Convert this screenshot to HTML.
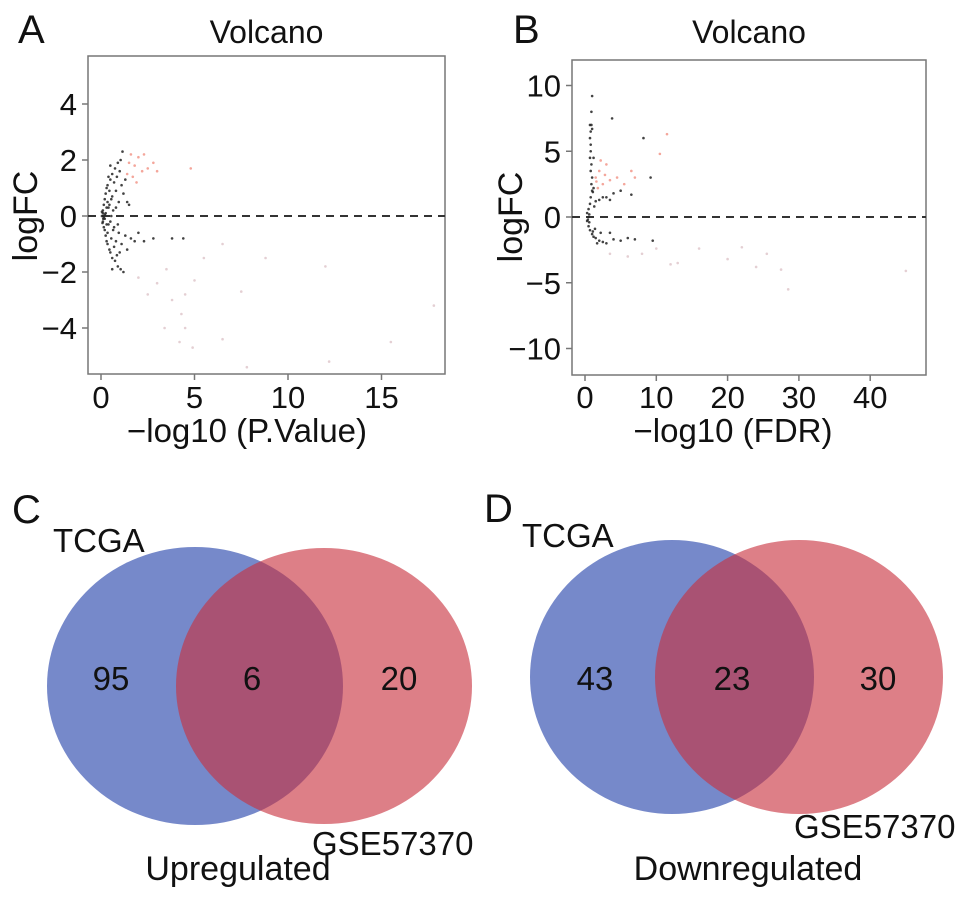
<!DOCTYPE html>
<html><head><meta charset="utf-8"><style>
html,body{margin:0;padding:0;background:#fff;}
svg{display:block;font-family:"Liberation Sans",Arial,sans-serif;}
</style></head><body>
<svg id="fig" width="969" height="902" viewBox="0 0 969 902" xmlns="http://www.w3.org/2000/svg">
<g id="pa"></g>
<g id="pb"></g>
<g>
  <text x="12" y="523" font-size="40" fill="#111">C</text>
  <ellipse cx="195" cy="686" rx="148" ry="139" fill="#6a7fc6" fill-opacity="0.92"/>
  <ellipse cx="324" cy="686" rx="148" ry="138" fill="rgb(200,48,62)" fill-opacity="0.62"/>
  <text x="53" y="552" font-size="33" fill="#111">TCGA</text>
  <text x="111" y="690" font-size="33" fill="#111" text-anchor="middle">95</text>
  <text x="252" y="690" font-size="33" fill="#111" text-anchor="middle">6</text>
  <text x="399" y="690" font-size="33" fill="#111" text-anchor="middle">20</text>
  <text x="312" y="855" font-size="33" fill="#111">GSE57370</text>
  <text x="238" y="880" font-size="34" fill="#111" text-anchor="middle">Upregulated</text>
</g>
<g>
  <text x="484" y="522" font-size="40" fill="#111">D</text>
  <ellipse cx="672" cy="677" rx="142" ry="137" fill="#6a7fc6" fill-opacity="0.92"/>
  <ellipse cx="799" cy="677" rx="144" ry="137" fill="rgb(200,48,62)" fill-opacity="0.62"/>
  <text x="522" y="547" font-size="33" fill="#111">TCGA</text>
  <text x="595" y="690" font-size="33" fill="#111" text-anchor="middle">43</text>
  <text x="732" y="690" font-size="33" fill="#111" text-anchor="middle">23</text>
  <text x="878" y="690" font-size="33" fill="#111" text-anchor="middle">30</text>
  <text x="794" y="838" font-size="33" fill="#111">GSE57370</text>
  <text x="748" y="880" font-size="34" fill="#111" text-anchor="middle">Downregulated</text>
</g>
</svg>
<script>
// Panel A data
const aBlackX=[0.05,0.1,0.1,0.15,0.15,0.2,0.2,0.25,0.25,0.3,0.3,0.35,0.35,0.4,0.4,0.45,0.45,0.5,0.5,0.55,0.55,0.6,0.6,0.65,0.65,0.7,0.7,0.75,0.75,0.8,0.8,0.85,0.85,0.9,0.9,0.95,0.95,1.0,1.0,1.05,1.05,1.1,1.1,1.15,1.2,1.2,1.3,1.3,1.4,1.4,1.5,1.6,1.8,2.0,2.3,2.8,3.8,4.4,0.1,0.12,0.2,0.2,0.3,0.3,0.05,0.08,0.35,0.35,0.45,0.5,0.6,0.7,0.8,0.9,0.4,0.5,0.6,0.55,0.25,0.15];
const aBlackY=[0,0.2,-0.2,0.4,-0.4,0.6,-0.5,0.8,-0.7,1.0,-0.9,1.1,-1.0,0.3,-0.3,0.9,-1.2,1.3,-1.3,0.6,-0.8,1.5,-1.5,0.2,-0.5,1.2,-1.1,1.7,-1.6,0.9,-0.9,1.4,-1.4,1.9,-1.8,0.5,-0.6,1.6,-1.3,2.0,-1.9,1.1,-1.0,2.3,0.8,-2.0,1.3,-0.7,0.5,-1.2,0.4,-0.8,-0.9,-0.6,-0.9,-0.8,-0.8,-0.8,0.1,-0.1,0.05,-0.1,0.3,-0.3,0.15,-0.25,0.5,-0.6,0.4,-0.2,0.7,-0.4,0.3,-0.3,1.4,1.8,-1.9,0.0,0.1,-0.05];
const aRedX=[1.5,1.6,1.8,2.0,2.2,2.5,2.8,1.4,1.7,2.3,4.8,3.0,1.9];
const aRedY=[1.9,2.2,1.8,2.1,1.6,1.7,1.9,1.5,1.4,2.2,1.7,1.6,1.2];
const aFaintX=[2,3,3.5,4.5,5,5.5,6.5,7.5,8.8,12,4.3,3.4,4.5,4.2,6.5,7.8,12.2,15.5,17.8,4.9,2.5,3.8];
const aFaintY=[-2.2,-2.4,-1.9,-2.8,-2.3,-1.5,-1.0,-2.7,-1.5,-1.8,-3.5,-4.0,-4.0,-4.5,-4.4,-5.4,-5.2,-4.5,-3.2,-4.7,-2.8,-3.0];
const aXTicks=[0,5,10,15];
const aYTicks=[-4,-2,0,2,4];
// Panel B data
const bBlackX=[0.5,0.3,0.3,0.5,0.5,0.7,0.7,0.8,1.0,1.0,1.2,0.9,1.0,0.8,0.9,0.7,0.8,0.8,0.7,0.8,0.7,0.9,1.0,1.0,0.9,1.2,1.5,2,2.5,3,3.5,4,5,6.5,1.5,2,2.5,3,1.7,4,5,6,7,9.5,3.5,0.6,0.4,0.6,1.3,1.4,2.2,1.1,3.8,8.2,9.2,1.2,1.1];
const bBlackY=[0,0.3,-0.3,0.6,-0.7,1.0,-1.0,1.5,-1.3,2.0,-1.5,2.5,3.0,3.5,4.0,4.5,5.0,5.5,6.0,6.5,7.0,7.0,6.7,9.2,8.0,4.5,1.2,1.3,1.5,1.5,1.3,1.8,2.0,1.7,-1.6,-1.8,-1.9,-2.0,-2.0,-1.7,-1.8,-1.6,-1.7,-1.8,-1.2,0.2,-0.2,-0.4,0.8,-0.9,-1.2,1.9,7.5,6.0,3.0,2.2,-1.1];
const bRedX=[1.5,2.0,2.5,1.8,2.8,3.5,4.5,6.5,7.0,2.2,1.6,3.0,5.5,11.5,10.5];
const bRedY=[3.0,3.5,2.5,2.2,3.2,2.8,3.0,3.5,3.0,4.3,2.7,4.0,2.5,6.3,4.8];
const bFaintX=[8,10,12,16,20,22,24,25.5,27.5,28.5,45,6,3.5,13];
const bFaintY=[-2.8,-2.4,-3.6,-2.4,-3.2,-2.3,-3.8,-2.8,-4,-5.5,-4.1,-3,-2.8,-3.5];
const bXTicks=[0,10,20,30,40];
const bYTicks=[-10,-5,0,5,10];

const NS="http://www.w3.org/2000/svg";
function mk(parent,tag,attrs,txt){const e=document.createElementNS(NS,tag);for(const k in attrs)e.setAttribute(k,attrs[k]);if(txt!==undefined)e.textContent=txt;parent.appendChild(e);return e;}

function panel(g,cfg){
  const sx=v=>cfg.x0+(v-cfg.xa)*cfg.kx;
  const sy=v=>cfg.y0-(v-cfg.ya)*cfg.ky;
  let t=mk(g,'text',{x:cfg.lx,y:43,'font-size':40,fill:'#111'},cfg.label);
  
  
  t=mk(g,'text',{x:(cfg.bl+cfg.br)/2,y:43,'font-size':32,fill:'#111','text-anchor':'middle'},'Volcano');
  
  
  const box=mk(g,'rect',{x:cfg.bl,y:cfg.bt,width:cfg.br-cfg.bl,height:cfg.bb-cfg.bt,fill:'none',stroke:'#777','stroke-width':1.5});
  
  
  cfg.xt.forEach(v=>{
    const l=mk(g,'line',{x1:sx(v),x2:sx(v),y1:cfg.bb,y2:cfg.bb+6,stroke:'#777','stroke-width':1.5});
    
    
    const tx=mk(g,'text',{x:sx(v),y:408,'font-size':31,fill:'#111','text-anchor':'middle'},String(v));
    
    
  });
  cfg.yt.forEach(v=>{
    const l=mk(g,'line',{x1:cfg.bl-6,x2:cfg.bl,y1:sy(v),y2:sy(v),stroke:'#777','stroke-width':1.5});
    
    
    const tx=mk(g,'text',{x:cfg.bl-11,y:sy(v)+11,'font-size':31,fill:'#111','text-anchor':'end'},String(v).replace('-','\u2212'));
    
    
  });
  const dl=mk(g,'line',{x1:cfg.bl,x2:cfg.br,y1:sy(0),y2:sy(0),stroke:'#333','stroke-width':2,'stroke-dasharray':'8,6'});
  
  
  const xt=mk(g,'text',{x:cfg.xtc,y:442,'font-size':33,fill:'#111','text-anchor':'middle'},cfg.xtitle);
  
  
  const yt=mk(g,'text',{x:0,y:0,'font-size':34,fill:'#111','text-anchor':'middle',transform:`translate(${cfg.ytx},${sy(0)}) rotate(-90)`},'logFC');
  
  
  function pts(X,Y,col,op,name){
    X.forEach((v,i)=>{
      const c=mk(g,'circle',{cx:sx(v),cy:sy(Y[i]),r:1.3,fill:col,'fill-opacity':op});
      
      
    });
  }
  pts(cfg.fx,cfg.fy,'#c9a0a8',0.5,'point-faint');
  pts(cfg.rx,cfg.ry,'#f08070',0.7,'point-significant');
  pts(cfg.kx_,cfg.ky_,'#222',0.85,'point');
}
panel(document.getElementById('pa'),{label:'A',lx:18,bl:88,br:445,bt:56,bb:374,x0:101,xa:0,kx:18.7,y0:216,ya:0,ky:28,
  xt:aXTicks,yt:aYTicks,xtitle:'\u2212log10 (P.Value)',xtc:247,ytx:37,
  kx_:aBlackX,ky_:aBlackY,rx:aRedX,ry:aRedY,fx:aFaintX,fy:aFaintY});
panel(document.getElementById('pb'),{label:'B',lx:513,bl:572,br:926,bt:60,bb:375,x0:585,xa:0,kx:7.13,y0:217,ya:0,ky:13.15,
  xt:bXTicks,yt:bYTicks,xtitle:'\u2212log10 (FDR)',xtc:733,ytx:522,
  kx_:bBlackX,ky_:bBlackY,rx:bRedX,ry:bRedY,fx:bFaintX,fy:bFaintY});
</script>
</body></html>
